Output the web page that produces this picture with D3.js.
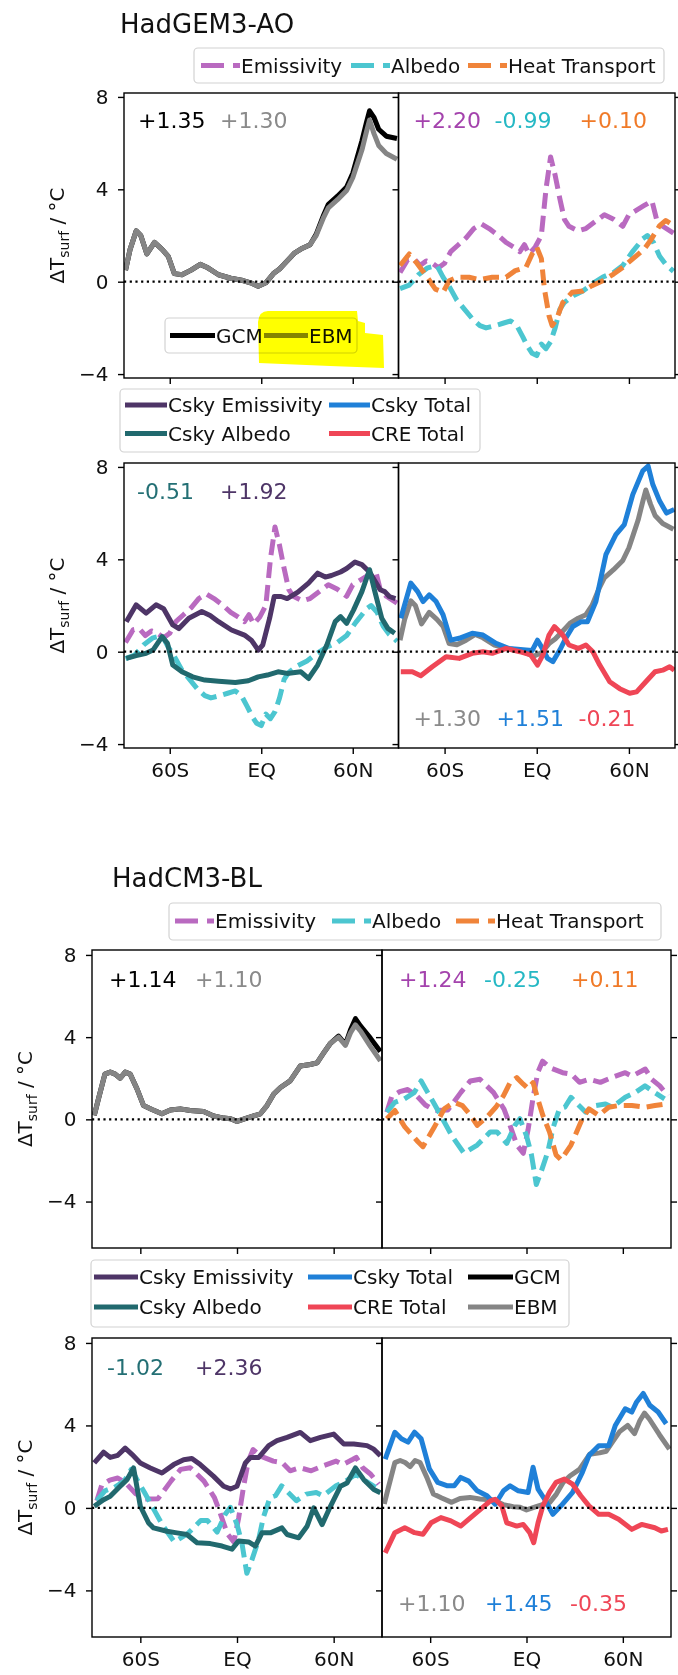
<!DOCTYPE html>
<html><head><meta charset="utf-8">
<script src="https://cdn.jsdelivr.net/npm/d3@7"></script>
<style>
body{margin:0;background:#fff}
svg{display:block;font-family:"DejaVu Sans",sans-serif}
</style>
</head><body>
<svg id="c" width="678" height="1675"></svg>
<script>
// ---------------- DATA: HadGEM3-AO ----------------
const latGcmG = [-89,-86,-82,-79,-75,-70,-65,-61,-57,-52,-46,-40,-35,-28,-20,-12,-7,-2,3,8,12,17,22,27,32,36,41,44,50,56,60,63,66,69,71,74,77,82,89];
const gcmG = [0.5,1.4,2.2,2.0,1.2,1.7,1.4,1.1,0.35,0.3,0.5,0.75,0.6,0.3,0.15,0.05,-0.05,-0.2,-0.05,0.35,0.55,0.9,1.25,1.45,1.6,2.05,2.9,3.35,3.7,4.1,4.7,5.4,6.1,6.9,7.4,7.1,6.6,6.3,6.2];
const ebmG = [0.5,1.4,2.2,2.0,1.2,1.7,1.4,1.1,0.35,0.3,0.5,0.75,0.6,0.3,0.15,0.05,-0.05,-0.2,-0.05,0.35,0.55,0.9,1.25,1.45,1.6,2.0,2.8,3.2,3.55,3.95,4.5,5.1,5.7,6.5,7.0,6.4,5.9,5.55,5.3];
const latEmisG = [-89,-84,-80,-76,-72,-68,-64,-60,-56,-51,-46,-41,-36,-31,-25,-20,-15,-11,-8,-5,-1,3,6,9,12,15,18,21,27,32,39,44,50,56,60,65,70,75,78,82,89];
const emisG = [0.4,0.95,1.0,0.7,0.9,0.8,0.6,0.8,1.3,1.6,1.9,2.3,2.5,2.3,2.0,1.7,1.5,1.3,1.6,1.2,1.5,2.0,4.0,5.4,4.6,3.6,2.7,2.4,2.2,2.3,2.65,2.9,2.7,2.4,2.9,3.1,3.3,3.5,2.7,2.4,2.1];
const latAlbG = [-89,-83,-77,-71,-65,-61,-57,-52,-47,-42,-37,-33,-27,-22,-17,-13,-9,-6,-3,0,3,6,9,12,15,18,24,30,36,43,50,56,62,66,69,72,76,80,84,89];
const albG = [-0.3,-0.15,0.3,0.6,0.7,0.2,-0.2,-0.8,-1.2,-1.6,-1.9,-2.0,-1.9,-1.8,-1.7,-1.9,-2.4,-2.8,-3.1,-3.2,-2.7,-2.9,-2.6,-2.0,-1.2,-0.9,-0.6,-0.4,-0.1,0.2,0.4,0.7,1.27,1.6,1.86,2.0,1.7,1.1,0.75,0.45];
const latHeatG = [-89,-83,-78,-72,-66,-61,-57,-52,-44,-37,-29,-20,-14,-7,-3,0,3,5,8,10,13,17,23,30,36,43,50,56,65,70,74,80,84,89];
const heatG = [0.7,1.2,0.8,0.26,-0.32,-0.46,0.04,0.19,0.19,0.09,0.19,0.19,0.48,0.62,1.2,1.5,1.0,-0.32,-1.48,-1.9,-1.6,-0.9,-0.46,-0.4,-0.17,0.04,0.33,0.62,1.13,1.42,1.78,2.43,2.65,2.43];
const latCskyEmisG = [-88.5,-82,-75.5,-69,-64,-58,-54,-47.5,-39,-33.5,-28,-19.5,-11,-6.5,-2,1,5.5,8.5,13,17,24,31,37,42,46,52,56,61.5,66,71,78,81,84,88];
const cskyEmisG = [1.3,2.03,1.67,2.03,1.86,1.16,1.0,1.45,1.74,1.57,1.3,0.94,0.72,0.5,0.07,0.29,1.45,2.39,2.39,2.3,2.58,2.97,3.4,3.23,3.3,3.45,3.6,3.88,3.77,3.45,2.68,2.6,2.39,2.3];
const latCskyAlbG = [-88.5,-82,-75.5,-71,-68,-65,-61.5,-58,-52,-45,-37,-28,-17,-8.5,-2,4,11,17,26,31,37,43,48.5,52,56,60.5,66,71,74.5,79,83,87.5];
const cskyAlbG = [-0.29,-0.17,-0.07,0.07,0.36,0.65,0.36,-0.58,-0.87,-1.09,-1.23,-1.28,-1.33,-1.26,-1.09,-1.01,-0.87,-0.94,-0.87,-1.16,-0.58,0.29,1.3,1.52,1.23,1.8,2.6,3.55,2.6,1.45,1.01,0.8];
const latCskyTotG = [-88.5,-82,-77.5,-74,-70,-65.5,-61,-56,-50.5,-42,-35,-26.5,-18,-7,-3,0.5,4,7,10.5,15,19,23.5,29,33,38.5,45,51.5,57,62.5,69,72.5,75.5,80,84.5,89.5];
const cskyTotG = [1.45,2.97,2.6,2.17,2.46,2.17,1.6,0.5,0.58,0.8,0.72,0.36,0.14,0.07,0.05,0.5,0.1,-0.29,-0.43,0.07,0.6,1.09,1.3,1.3,2.17,4.2,5.07,5.5,6.8,7.83,8.04,7.25,6.52,6.0,6.16];
const latCreG = [-88.5,-81,-75.5,-68,-59,-50.5,-42,-35,-29,-20,-11,-4,0.5,4,8,11.5,17,21,27,32,36.5,41,47.5,54,60.5,65,71,77,82,86.5,89.5];
const creG = [-0.87,-0.87,-1.04,-0.65,-0.22,-0.29,-0.07,0,-0.07,0.14,0,-0.14,-0.58,-0.14,0.72,1.09,0.72,0.29,0.14,0.29,0,-0.58,-1.3,-1.6,-1.8,-1.74,-1.3,-0.87,-0.8,-0.65,-0.8];

// ---------------- DATA: HadCM3-BL ----------------
const latGcmB = [-88.6,-86,-82,-78.7,-75.6,-72.5,-69.4,-66.3,-62,-58,-52.8,-46.6,-41.4,-35.2,-29,-20.7,-14.5,-8.3,-4,0,6,14.5,18.6,22.8,27,33,39.3,45.5,49.7,53.8,58,63,67.3,70.4,73.5,76.6,82.8,89];
const gcmB = [0.19,1.0,2.2,2.3,2.2,2.0,2.3,2.2,1.47,0.67,0.48,0.27,0.46,0.51,0.43,0.38,0.16,0.06,0.03,-0.1,0.06,0.27,0.67,1.23,1.55,1.87,2.6,2.67,2.75,3.23,3.7,4.05,3.65,4.35,4.9,4.55,3.95,3.3];
const ebmB = [0.19,1.0,2.2,2.3,2.2,2.0,2.3,2.2,1.47,0.67,0.48,0.27,0.46,0.51,0.43,0.38,0.16,0.06,0.03,-0.1,0.06,0.27,0.67,1.23,1.55,1.87,2.6,2.67,2.75,3.23,3.7,4.0,3.6,4.2,4.6,4.3,3.55,2.85];
const latEmisB = [-87,-84,-79,-74,-69,-63,-57,-49,-41,-35,-29,-20.5,-14,-11,-6,-2,1,4,7,10,15,22.5,28,33,39,46,53,61.5,65.6,71.7,74,78,83,88];
const emisB = [0.35,1.1,1.35,1.45,1.2,0.7,0.43,0.45,1.3,1.87,1.95,1.3,0.5,-0.13,-1.25,-1.65,-0.5,1.0,2.27,2.83,2.5,2.27,2.2,1.8,1.95,1.8,2.03,2.27,2.1,2.35,2.45,1.95,1.63,1.15];
const latAlbB = [-87,-82,-76,-70,-65.6,-61.5,-57.4,-51.2,-46.1,-38.9,-30.7,-22.5,-18.4,-12.3,-7.2,-4.1,0,3.1,6.1,9.2,13.3,16.4,20.5,24,27.7,30.7,36.9,43,49.2,53.3,61.5,67.6,73.8,80,86];
const albB = [0.35,0.83,1.0,1.3,1.87,1.3,0.75,-0.13,-0.85,-1.65,-1.25,-0.61,-0.61,-1.17,-0.29,0.03,-0.8,-1.73,-3.17,-2.53,-1.57,-0.45,0.51,0.6,1.07,0.83,0.35,0.67,0.75,0.59,1.07,1.3,1.63,1.3,1.0];
const latHeatB = [-87,-82,-75.8,-67.6,-64.5,-57.4,-51.2,-45.1,-39.9,-34.8,-30.7,-24.6,-19,-14.3,-10.2,-6.1,-2,1,4.1,7,10.2,14.3,18.4,21.5,27.7,34.8,38.9,45,51.2,57.4,65.6,73.8,80,87];
const heatB = [0.03,0.43,-0.37,-1.09,-1.33,-0.37,0.51,0.83,0.67,0.19,-0.29,0.11,0.6,1.15,1.79,2.03,1.71,1.5,1.79,1.0,0.19,-0.61,-1.73,-1.97,-1.25,0.03,0.51,0.19,0.59,0.67,0.67,0.59,0.67,0.75];
const latCskyEmisB = [-88.6,-82.8,-78.7,-74,-69.4,-65.2,-60,-53.8,-46.6,-39.3,-33.1,-28,-22.8,-14.5,-8.3,-4.1,0,5.2,8.3,13.5,19.7,24.8,31.1,39.3,45.5,51.8,60,66.3,72.5,80.7,84.9,89];
const cskyEmisB = [2.18,2.7,2.45,2.55,2.9,2.6,2.18,1.94,1.69,2.1,2.34,2.4,2.1,1.53,1.05,0.92,1.05,2.18,2.45,2.45,3.02,3.26,3.42,3.66,3.26,3.42,3.58,3.1,3.1,3.02,2.85,2.53];
const latCskyAlbB = [-88.6,-82.8,-78.7,-72.5,-68.3,-64.2,-60,-54.9,-51.8,-43.5,-37.3,-31.1,-24.8,-16.6,-9.3,-3.1,1,7.2,11.4,15.5,20.7,27.9,31.1,38.3,43.5,47.6,52.8,58,64.2,68.3,73.5,78.7,84.9,89];
const cskyAlbB = [0.08,0.4,0.56,1.05,1.37,1.94,0.08,-0.73,-0.97,-1.13,-1.21,-1.29,-1.69,-1.73,-1.85,-2.0,-1.6,-1.65,-1.85,-1.21,-1.21,-0.97,-1.29,-1.45,-0.89,0,-0.81,0.08,1.05,1.21,1.94,1.37,0.89,0.73];
const latCskyTotB = [-88,-82,-77.9,-73.8,-69.7,-65.6,-60.5,-55.3,-49.2,-45,-41,-36,-30.7,-24.6,-19.5,-14.3,-10.2,-5.1,1,4.1,7.2,11.3,16.4,21.5,28.7,34.8,38.9,45,51.2,55.3,61.5,65.6,68.6,72.7,76.8,82,87];
const cskyTotB = [2.37,3.67,3.35,3.19,3.67,3.35,1.89,1.24,1.07,1.07,1.48,1.3,0.83,0.59,0.18,0.83,1.07,0.83,0.75,1.97,0.91,0.42,-0.31,0.1,0.75,1.72,2.54,3.02,3.02,4.0,4.81,4.65,5.14,5.55,4.98,4.65,4.08];
const latCreB = [-88,-82,-75.8,-69.7,-64.5,-59.4,-53.3,-47.1,-41,-34.8,-28.7,-22.5,-19.5,-15.4,-12.3,-6.1,-2,2,4.5,7.2,10.2,14.3,18.4,23.6,28.7,33.8,38.9,45,51.2,57.4,65.6,71.7,79.9,84,88.1];
const creB = [-2.18,-1.2,-0.96,-1.2,-1.28,-0.72,-0.47,-0.63,-0.88,-0.47,-0.07,0.34,0.42,0.1,-0.72,-0.88,-0.8,-1.2,-1.69,-0.72,0.1,0.75,1.24,1.4,1.15,0.59,0.1,-0.31,-0.31,-0.55,-1.04,-0.8,-0.96,-1.12,-1.04];

// ---------------- LABELS ----------------
const titles = ["HadGEM3-AO", "HadCM3-BL"];
const xTickVals = [-60, 0, 60];
const xTickLabels = ["60S", "EQ", "60N"];
const yTickVals = [8, 4, 0, -4];
const yTickLabels = ["8", "4", "0", "\u22124"];
const annG = {gcm:"+1.35", ebm:"+1.30", emis:"+2.20", alb:"-0.99", heat:"+0.10", cAlb:"-0.51", cEmis:"+1.92", cTot:"+1.51", cre:"-0.21"};
const annB = {gcm:"+1.14", ebm:"+1.10", emis:"+1.24", alb:"-0.25", heat:"+0.11", cAlb:"-1.02", cEmis:"+2.36", cTot:"+1.45", cre:"-0.35"};

// ---------------- STYLE ----------------
const col = {emis:'#b96ac0', alb:'#4cc6d0', heat:'#f0843a', cEmis:'#4e3567', cAlb:'#21696e', cTot:'#1f80d8', cre:'#ef4656', gcm:'#000000', ebm:'#858585'};
const tcol = {emis:'#a443ad', alb:'#25b8c4', heat:'#f07a28', cEmis:'#4e3567', cAlb:'#236f74', cTot:'#1f80d8', cre:'#ef4656', gcm:'#000000', ebm:'#8a8a8a'};
const LW = 5, DASH = '16,7';
const FS_TICK = 20, FS_ANN = 22, FS_LEG = 20, FS_TITLE = 26;

const svg = d3.select('#c');
let clipN = 0;

function drawPanel(p) {
  const x = d3.scaleLinear().domain([-90, 90]).range([p.x0, p.x1]);
  const y = d3.scaleLinear().domain(p.yDom).range([p.y1, p.y0]);
  const g = svg.append('g');
  const cid = 'clip' + (clipN++);
  svg.append('clipPath').attr('id', cid).append('rect')
    .attr('x', p.x0).attr('y', p.y0).attr('width', p.x1 - p.x0).attr('height', p.y1 - p.y0);
  const lg = g.append('g').attr('clip-path', `url(#${cid})`);
  const line = d3.line().x(d => x(d[0])).y(d => y(d[1]));
  p.series.forEach(s => {
    lg.append('path').datum(d3.zip(s.lat, s.val))
      .attr('d', line).attr('fill', 'none')
      .attr('stroke', s.color).attr('stroke-width', LW)
      .attr('stroke-linejoin', 'round')
      .attr('stroke-dasharray', s.dash ? DASH : null);
  });
  lg.append('line').attr('x1', p.x0).attr('x2', p.x1).attr('y1', y(0)).attr('y2', y(0))
    .attr('stroke', '#000').attr('stroke-width', 2.2).attr('stroke-dasharray', '2.2,3.5');
  g.append('rect').attr('x', p.x0).attr('y', p.y0).attr('width', p.x1 - p.x0).attr('height', p.y1 - p.y0)
    .attr('fill', 'none').attr('stroke', '#000').attr('stroke-width', 1.4);
  const styleAxis = a => {
    a.select('.domain').remove();
    a.selectAll('.tick line').attr('stroke', '#000').attr('stroke-width', 1.4);
    a.selectAll('text').attr('font-family', '"DejaVu Sans",sans-serif').attr('font-size', FS_TICK).attr('fill', '#111');
    a.attr('font-family', null).attr('font-size', null);
  };
  const xa = g.append('g').attr('transform', `translate(0,${p.y1})`)
    .call(d3.axisBottom(x).tickValues(xTickVals).tickSize(6).tickPadding(8.8)
      .tickFormat((d, i) => p.xLabels ? xTickLabels[i] : ''));
  styleAxis(xa);
  const ya = g.append('g').attr('transform', `translate(${p.x0},0)`)
    .call(d3.axisLeft(y).tickValues(yTickVals).tickSize(6).tickPadding(9.5)
      .tickFormat((d, i) => p.yLabels ? yTickLabels[i] : ''));
  styleAxis(ya);
  if (p.rightTicks) {
    const ra = g.append('g').attr('transform', `translate(${p.x1},0)`)
      .call(d3.axisRight(y).tickValues(yTickVals).tickSize(6).tickFormat(''));
    styleAxis(ra);
  }
  if (p.yLabels) {
    const t = svg.append('text')
      .attr('transform', `translate(${p.x0 - 67},${(p.y0 + p.y1) / 2}) rotate(-90)`)
      .attr('text-anchor', 'middle').attr('font-size', FS_TICK).attr('fill', '#111').attr('dy', '0.35em');
    t.append('tspan').text('\u0394T');
    t.append('tspan').text('surf').attr('font-size', 14).attr('dy', 5);
    t.append('tspan').text(' / \u00b0C').attr('font-size', FS_TICK).attr('dy', -5);
  }
  p.ann.forEach(a => {
    svg.append('text').attr('x', a.x).attr('y', a.y).attr('font-size', FS_ANN)
      .attr('fill', a.color).text(a.text);
  });
}

function drawLegend(box, items) {
  const g = svg.append('g');
  g.append('rect').attr('x', box.x).attr('y', box.y).attr('width', box.w).attr('height', box.h)
    .attr('rx', 4).attr('fill', '#fff').attr('fill-opacity', 0.8)
    .attr('stroke', '#d2d2d2').attr('stroke-width', 1.2);
  items.forEach(it => {
    g.append('line').attr('x1', it.x).attr('x2', it.x + it.len).attr('y1', it.y).attr('y2', it.y)
      .attr('stroke', it.color).attr('stroke-width', LW)
      .attr('stroke-dasharray', it.dash ? '23,9' : null);
    g.append('text').attr('x', it.x + it.len + 1).attr('y', it.y).attr('dy', '0.35em')
      .attr('font-size', FS_LEG).attr('fill', '#111').text(it.label);
  });
}

// ---------------- HadGEM3-AO ----------------
svg.append('text').attr('x', 120).attr('y', 33).attr('font-size', FS_TITLE).attr('fill', '#111').text(titles[0]);
drawLegend({x:194, y:48, w:470, h:35}, [
  {x:201, y:65.5, len:39, color:col.emis, dash:true, label:'Emissivity'},
  {x:351, y:65.5, len:39, color:col.alb, dash:true, label:'Albedo'},
  {x:468, y:65.5, len:39, color:col.heat, dash:true, label:'Heat Transport'}
]);
const gx0 = 124, gxm = 398.5, gx1 = 675;
const gDom = [-4.17, 8.17];
drawPanel({x0:gx0, x1:gxm, y0:93, y1:378, yDom:gDom, xLabels:false, yLabels:true, rightTicks:false,
  series:[{lat:latGcmG, val:gcmG, color:col.gcm}, {lat:latGcmG, val:ebmG, color:col.ebm}],
  ann:[{x:gx0+14, y:128, text:annG.gcm, color:tcol.gcm}, {x:gx0+96, y:128, text:annG.ebm, color:tcol.ebm}]});
drawPanel({x0:gxm, x1:gx1, y0:93, y1:378, yDom:gDom, xLabels:false, yLabels:false, rightTicks:true,
  series:[{lat:latEmisG, val:emisG, color:col.emis, dash:true}, {lat:latAlbG, val:albG, color:col.alb, dash:true},
          {lat:latHeatG, val:heatG, color:col.heat, dash:true}],
  ann:[{x:gxm+15, y:128, text:annG.emis, color:tcol.emis}, {x:gxm+96, y:128, text:annG.alb, color:tcol.alb},
       {x:gxm+181, y:128, text:annG.heat, color:tcol.heat}]});
drawLegend({x:165, y:318, w:192, h:35}, [
  {x:170, y:335.5, len:45, color:col.gcm, label:'GCM'},
  {x:264, y:335.5, len:44, color:col.ebm, label:'EBM'}
]);
// yellow highlighter mark
svg.append('path')
  .attr('d', 'M258,322 Q259,311 268,311 L357,311 L358,321 L365,323 L365,333 L383,335 L384,368 L330,366 L259,363 Z')
  .attr('fill', '#ffff00').style('mix-blend-mode', 'multiply');

drawLegend({x:120, y:389, w:360, h:63}, [
  {x:125, y:405, len:42, color:col.cEmis, label:'Csky Emissivity'},
  {x:329, y:405, len:41, color:col.cTot, label:'Csky Total'},
  {x:125, y:433.5, len:42, color:col.cAlb, label:'Csky Albedo'},
  {x:329, y:433.5, len:41, color:col.cre, label:'CRE Total'}
]);
drawPanel({x0:gx0, x1:gxm, y0:463, y1:748, yDom:gDom, xLabels:true, yLabels:true, rightTicks:false,
  series:[{lat:latEmisG, val:emisG, color:col.emis, dash:true}, {lat:latAlbG, val:albG, color:col.alb, dash:true},
          {lat:latCskyEmisG, val:cskyEmisG, color:col.cEmis}, {lat:latCskyAlbG, val:cskyAlbG, color:col.cAlb}],
  ann:[{x:gx0+13, y:499, text:annG.cAlb, color:tcol.cAlb}, {x:gx0+96, y:499, text:annG.cEmis, color:tcol.cEmis}]});
drawPanel({x0:gxm, x1:gx1, y0:463, y1:748, yDom:gDom, xLabels:true, yLabels:false, rightTicks:true,
  series:[{lat:latGcmG, val:ebmG, color:col.ebm}, {lat:latCskyTotG, val:cskyTotG, color:col.cTot},
          {lat:latCreG, val:creG, color:col.cre}],
  ann:[{x:gxm+15, y:726, text:annG.ebm, color:tcol.ebm}, {x:gxm+98, y:726, text:annG.cTot, color:tcol.cTot},
       {x:gxm+180, y:726, text:annG.cre, color:tcol.cre}]});

// ---------------- HadCM3-BL ----------------
svg.append('text').attr('x', 112).attr('y', 887).attr('font-size', FS_TITLE).attr('fill', '#111').text(titles[1]);
drawLegend({x:169, y:903, w:492, h:37}, [
  {x:175, y:921, len:39, color:col.emis, dash:true, label:'Emissivity'},
  {x:332, y:921, len:39, color:col.alb, dash:true, label:'Albedo'},
  {x:456, y:921, len:39, color:col.heat, dash:true, label:'Heat Transport'}
]);
const bx0 = 92, bxm = 382, bx1 = 671;
const bDom = [-6.26, 8.24];
drawPanel({x0:bx0, x1:bxm, y0:950, y1:1248, yDom:bDom, xLabels:false, yLabels:true, rightTicks:false,
  series:[{lat:latGcmB, val:gcmB, color:col.gcm}, {lat:latGcmB, val:ebmB, color:col.ebm}],
  ann:[{x:bx0+17, y:987, text:annB.gcm, color:tcol.gcm}, {x:bx0+103, y:987, text:annB.ebm, color:tcol.ebm}]});
drawPanel({x0:bxm, x1:bx1, y0:950, y1:1248, yDom:bDom, xLabels:false, yLabels:false, rightTicks:true,
  series:[{lat:latEmisB, val:emisB, color:col.emis, dash:true}, {lat:latAlbB, val:albB, color:col.alb, dash:true},
          {lat:latHeatB, val:heatB, color:col.heat, dash:true}],
  ann:[{x:bxm+17, y:987, text:annB.emis, color:tcol.emis}, {x:bxm+102, y:987, text:annB.alb, color:tcol.alb},
       {x:bxm+189, y:987, text:annB.heat, color:tcol.heat}]});
drawLegend({x:91, y:1260, w:478, h:67}, [
  {x:94, y:1277, len:44, color:col.cEmis, label:'Csky Emissivity'},
  {x:308, y:1277, len:44, color:col.cTot, label:'Csky Total'},
  {x:468, y:1277, len:45, color:col.gcm, label:'GCM'},
  {x:94, y:1307, len:44, color:col.cAlb, label:'Csky Albedo'},
  {x:308, y:1307, len:44, color:col.cre, label:'CRE Total'},
  {x:468, y:1307, len:45, color:col.ebm, label:'EBM'}
]);
drawPanel({x0:bx0, x1:bxm, y0:1338, y1:1637, yDom:bDom, xLabels:true, yLabels:true, rightTicks:false,
  series:[{lat:latEmisB, val:emisB, color:col.emis, dash:true}, {lat:latAlbB, val:albB, color:col.alb, dash:true},
          {lat:latCskyEmisB, val:cskyEmisB, color:col.cEmis}, {lat:latCskyAlbB, val:cskyAlbB, color:col.cAlb}],
  ann:[{x:bx0+15, y:1375, text:annB.cAlb, color:tcol.cAlb}, {x:bx0+103, y:1375, text:annB.cEmis, color:tcol.cEmis}]});
drawPanel({x0:bxm, x1:bx1, y0:1338, y1:1637, yDom:bDom, xLabels:true, yLabels:false, rightTicks:true,
  series:[{lat:latGcmB, val:ebmB, color:col.ebm}, {lat:latCskyTotB, val:cskyTotB, color:col.cTot},
          {lat:latCreB, val:creB, color:col.cre}],
  ann:[{x:bxm+16, y:1611, text:annB.ebm, color:tcol.ebm}, {x:bxm+103, y:1611, text:annB.cTot, color:tcol.cTot},
       {x:bxm+188, y:1611, text:annB.cre, color:tcol.cre}]});
</script>
</body></html>
